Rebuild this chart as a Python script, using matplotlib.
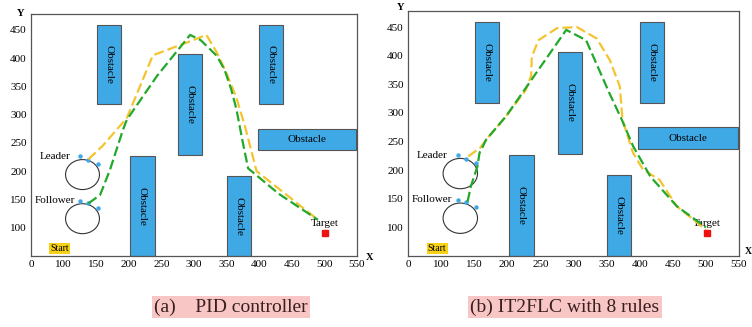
import numpy as np
import matplotlib
matplotlib.use("Agg")
import matplotlib.pyplot as plt
from matplotlib.patches import Rectangle, Ellipse

plt.rcParams["font.family"] = ["Liberation Serif", "DejaVu Serif"]

# obstacles (same in both panels): lower-left corner, width, height
OBS_X = [151, 276, 400, 398, 202, 350]
OBS_Y = [318, 228, 318, 237, 50, 50]
OBS_W = [37, 37, 37, 151, 38, 37]
OBS_H = [140, 179, 140, 38, 177, 141]
OBS_ROT = [-90, -90, -90, 0, -90, -90]

XTICKS = [50, 100, 150, 200, 250, 300, 350, 400, 450, 500, 550]
XLABELS = ["0", "100", "150", "200", "250", "300", "350", "400", "450", "500", "550"]
YTICKS = [100, 150, 200, 250, 300, 350, 400, 450]

# robots
LEADER = (129, 194)
FOLLOWER = (129, 116)
LEAD_DOTS_X = [125, 138, 152]
LEAD_DOTS_Y = [226, 220, 213]
FOLL_DOTS_X = [125, 138, 152]
FOLL_DOTS_Y = [148, 144, 135]
TARGET = (501, 90)

# (a) PID controller
lead_pid_x = [138, 160, 197, 237, 260, 290, 319, 335, 350, 365, 378, 396, 440, 490]
lead_pid_y = [221, 245, 294, 405, 415, 428, 441, 410, 373, 330, 280, 200, 160, 114]
foll_pid_x = [138, 156, 171, 191, 197, 243, 294, 310, 335, 347, 357, 365, 375, 383, 430, 490]
foll_pid_y = [143, 158, 202, 273, 291, 368, 441, 432, 404, 379, 345, 310, 250, 205, 160, 114]

# (b) IT2FLC with 8 rules
lead_it_x = [141, 159, 168, 198, 228, 236, 237, 247, 275, 305, 335, 355, 370, 374, 390, 405, 430, 456, 500]
lead_it_y = [224, 239, 253, 294, 340, 365, 398, 427, 448, 450, 430, 392, 346, 288, 230, 201, 183, 137, 96]
foll_it_x = [140, 145, 155, 158, 168, 198, 233, 289, 319, 354, 373, 390, 416, 456, 500]
foll_it_y = [145, 172, 207, 230, 253, 294, 352, 445, 427, 335, 288, 242, 189, 137, 100]

YELLOW = "#f4c430"
GREEN = "#22a82a"
BLUE = "#3fa9e6"


def panel(ax, lx, ly, fx, fy, ytop):
    ax.set_xlim(50, 550)
    ax.set_ylim(50, ytop)
    for s in ax.spines.values():
        s.set_color("#555555"); s.set_linewidth(0.9)
    ax.set_xticks(XTICKS); ax.set_xticklabels(XLABELS)
    ax.set_yticks(YTICKS)
    ax.tick_params(length=0, labelsize=8, pad=3)
    for x, y, w, h, r in zip(OBS_X, OBS_Y, OBS_W, OBS_H, OBS_ROT):
        ax.add_patch(Rectangle((x, y), w, h, fc=BLUE, ec="#555555", lw=0.8, zorder=2))
        ax.text(x + w / 2, y + h / 2, "Obstacle", rotation=r, ha="center", va="center",
                fontsize=8, zorder=3)
    for c in (LEADER, FOLLOWER):
        ax.add_patch(Ellipse(c, 52, 53, fc="none", ec="#333333", lw=0.8, zorder=3))
    ax.plot(LEAD_DOTS_X, LEAD_DOTS_Y, "o", ms=2.2, color=BLUE, zorder=4)
    ax.plot(FOLL_DOTS_X, FOLL_DOTS_Y, "o", ms=2.2, color=BLUE, zorder=4)
    ax.plot(lx, ly, color=YELLOW, lw=1.6, dashes=(4.5, 1.8), zorder=4)
    ax.plot(fx, fy, color=GREEN, lw=1.6, dashes=(4.5, 1.8), zorder=5)
    ax.text(110, 226, "Leader", ha="right", va="center", fontsize=8)
    ax.text(117, 149, "Follower", ha="right", va="center", fontsize=8)
    ax.text(94, 63, "Start", ha="center", va="center", fontsize=7,
            bbox=dict(fc="#f7d117", ec="none", pad=0.8))
    ax.plot(*TARGET, "s", ms=4.5, color="#ee1111", zorder=4)
    ax.text(TARGET[0], TARGET[1] + 17, "Target", ha="center", va="center", fontsize=8)


fig = plt.figure(figsize=(7.52, 3.27), dpi=100)
ax1 = fig.add_axes([31 / 752, 1 - 256 / 327, 326 / 752, 242 / 327])
ax2 = fig.add_axes([408 / 752, 1 - 256 / 327, 331 / 752, 245 / 327])
panel(ax1, lead_pid_x, lead_pid_y, foll_pid_x, foll_pid_y, 478)
panel(ax2, lead_it_x, lead_it_y, foll_it_x, foll_it_y, 478)

fig.text(21 / 752, 1 - 13 / 327, "Y", fontsize=7.5, fontweight="bold", ha="center", va="center")
fig.text(401 / 752, 1 - 8 / 327, "Y", fontsize=7.5, fontweight="bold", ha="center", va="center")
fig.text(370 / 752, 1 - 257 / 327, "X", fontsize=7.5, fontweight="bold", ha="center", va="center")
fig.text(748 / 752, 1 - 252 / 327, "X", fontsize=7, fontweight="bold", ha="center", va="center")

cap = dict(fc="#f9c6c6", ec="none", pad=1.5)
fig.text(231 / 752, 1 - 307 / 327, "(a)    PID controller", fontsize=14, color="#3a1f1f",
         ha="center", va="center", bbox=cap)
fig.text(565 / 752, 1 - 307 / 327, "(b) IT2FLC with 8 rules", fontsize=14, color="#3a1f1f",
         ha="center", va="center", bbox=cap)

fig.savefig("out.png", dpi=100)
